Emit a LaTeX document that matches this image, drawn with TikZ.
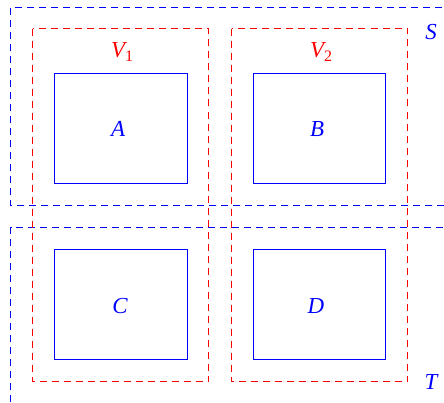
\documentclass[tikz,border=0pt]{standalone}
\usepackage{fontspec}
\setmainfont{Liberation Serif}
\definecolor{cblue}{RGB}{0,0,255}
\definecolor{cred}{RGB}{255,0,0}
\begin{document}
\begin{tikzpicture}[x=1bp,y=-1bp,
  region/.style={draw=cblue, line width=1.9bp, dash pattern=on 7bp off 5bp},
  vbox/.style={draw=cred, line width=1.9bp, dash pattern=on 7bp off 5bp},
  cellbox/.style={draw=cblue, line width=1.9bp},
  lbl/.style={font=\fontsize{23}{26}\selectfont\itshape, inner sep=0pt}]
\useasboundingbox (0,0) rectangle (444,402);
% region S and T (cut by picture border)
\coordinate (s1) at (444,205.5); \coordinate (s2) at (10.5,205.5);
\coordinate (s3) at (10.5,7.5); \coordinate (s4) at (444,7.5);
\draw[region] (s1) -- (s2) -- (s3) -- (s4);
\coordinate (t1) at (10.5,402); \coordinate (t2) at (10.5,227.5); \coordinate (t3) at (444,227.5);
\draw[region] (t1) -- (t2) -- (t3);
% V boxes
\draw[vbox] (32.5,28.5) rectangle (208.5,381.5);
\draw[vbox] (231.5,28.5) rectangle (407.5,381.5);
% cells
\draw[cellbox] (54.5,73.5) rectangle (187.5,183.5);
\draw[cellbox] (253.5,73.5) rectangle (385.5,183.5);
\draw[cellbox] (54.5,249.5) rectangle (187.5,359.5);
\draw[cellbox] (253.5,249.5) rectangle (385.5,359.5);
\node[lbl, text=cblue] (a) at (118,129) {A};
\node[lbl, text=cblue] (b) at (317,129) {B};
\node[lbl, text=cblue] (c) at (120,306) {C};
\node[lbl, text=cblue] (d) at (316,306) {D};
\node[lbl, text=cred] (v1) at (122,52) {V\raisebox{-0.35ex}{\upshape\fontsize{16}{18}\selectfont 1}};
\node[lbl, text=cred] (v2) at (321,52) {V\raisebox{-0.35ex}{\upshape\fontsize{16}{18}\selectfont 2}};
\node[lbl, text=cblue] (S) at (431,32) {S};
\node[lbl, text=cblue] (T) at (431,382) {T};
\end{tikzpicture}
\end{document}
